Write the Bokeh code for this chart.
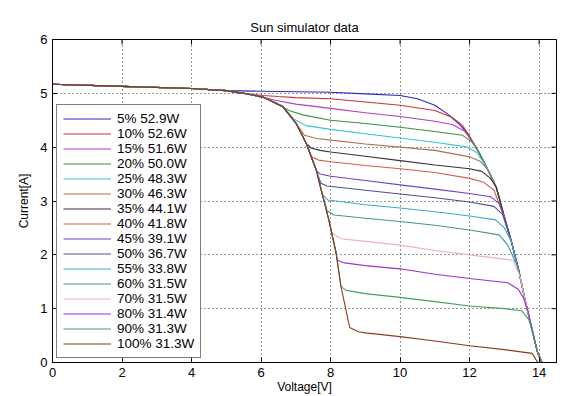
import math
from bokeh.plotting import figure
from bokeh.models import Legend, LegendItem, FixedTicker, Range1d
from bokeh.embed import file_html
from bokeh.resources import INLINE

# ---- data (Voltage [V], Current [A]) ----
labels = ["5% 52.9W", "10% 52.6W", "15% 51.6W", "20% 50.0W", "25% 48.3W", "30% 46.3W",
          "35% 44.1W", "40% 41.8W", "45% 39.1W", "50% 36.7W", "55% 33.8W", "60% 31.5W",
          "70% 31.5W", "80% 31.4W", "90% 31.3W", "100% 31.3W"]

v05 = [0, 2, 4, 5, 6, 7, 8, 9, 10, 10.5, 11, 11.4, 11.7, 11.95, 12.29, 12.55, 12.77, 13.0, 13.2, 13.4, 13.6, 13.8, 13.95, 14.08]
i05 = [5.17, 5.13, 5.09, 5.05, 5.04, 5.03, 5.02, 4.99, 4.96, 4.9, 4.78, 4.6, 4.43, 4.25, 3.88, 3.55, 3.25, 2.7, 2.25, 1.75, 1.15, 0.6, 0.2, 0.0]

v10 = [0, 2, 4, 5, 5.5, 6.05, 6.5, 7, 8, 9, 10, 11, 11.5, 11.8, 11.95, 12.29, 12.55, 12.77, 13.0, 13.2, 13.4, 13.6, 13.8, 13.95, 14.08]
i10 = [5.17, 5.13, 5.09, 5.05, 5.0, 4.96, 4.94, 4.92, 4.9, 4.84, 4.78, 4.68, 4.55, 4.4, 4.25, 3.88, 3.55, 3.25, 2.7, 2.25, 1.75, 1.15, 0.6, 0.2, 0.0]

v15 = [0, 2, 4, 5, 5.5, 6.05, 6.4, 7, 8, 9, 10, 11, 11.5, 11.85, 12.05, 12.29, 12.55, 12.77, 13.0, 13.2, 13.4, 13.6, 13.8, 13.95, 14.08]
i15 = [5.17, 5.13, 5.09, 5.05, 5.0, 4.93, 4.87, 4.8, 4.72, 4.64, 4.57, 4.48, 4.42, 4.3, 4.12, 3.88, 3.55, 3.25, 2.7, 2.25, 1.75, 1.15, 0.6, 0.2, 0.0]

v20 = [0, 2, 4, 5, 5.5, 6.05, 6.5, 6.8, 7.2, 8, 9, 10, 11, 11.8, 12.1, 12.29, 12.55, 12.77, 13.0, 13.2, 13.4, 13.6, 13.8, 13.95, 14.08]
i20 = [5.17, 5.13, 5.09, 5.05, 5.0, 4.93, 4.8, 4.68, 4.6, 4.5, 4.44, 4.37, 4.29, 4.22, 4.08, 3.88, 3.55, 3.25, 2.7, 2.25, 1.75, 1.15, 0.6, 0.2, 0.0]

v25 = [0, 2, 4, 5, 5.5, 6.05, 6.63, 6.95, 7.3, 8, 9, 10, 11, 11.95, 12.2, 12.4, 12.55, 12.77, 13.0, 13.2, 13.4, 13.6, 13.8, 13.95, 14.08]
i25 = [5.17, 5.13, 5.09, 5.05, 5.0, 4.93, 4.75, 4.52, 4.4, 4.33, 4.25, 4.17, 4.09, 4.0, 3.9, 3.72, 3.55, 3.25, 2.7, 2.25, 1.75, 1.15, 0.6, 0.2, 0.0]

v30 = [0, 2, 4, 5, 5.5, 6.05, 6.63, 7.01, 7.25, 7.6, 8, 9, 10, 11, 12, 12.3, 12.5, 12.77, 13.0, 13.2, 13.4, 13.6, 13.8, 13.95, 14.08]
i30 = [5.17, 5.13, 5.09, 5.05, 5.0, 4.93, 4.75, 4.44, 4.22, 4.16, 4.13, 4.06, 4.0, 3.94, 3.82, 3.74, 3.6, 3.25, 2.7, 2.25, 1.75, 1.15, 0.6, 0.2, 0.0]

v35 = [0, 2, 4, 5, 5.5, 6.05, 6.63, 7.01, 7.3, 7.45, 7.7, 8, 9, 10, 11, 12, 12.35, 12.6, 12.77, 13.0, 13.2, 13.4, 13.6, 13.8, 13.95, 14.08]
i35 = [5.17, 5.13, 5.09, 5.05, 5.0, 4.93, 4.75, 4.44, 4.07, 3.98, 3.94, 3.91, 3.83, 3.75, 3.67, 3.6, 3.55, 3.42, 3.25, 2.7, 2.25, 1.75, 1.15, 0.6, 0.2, 0.0]

v40 = [0, 2, 4, 5, 5.5, 6.05, 6.63, 7.01, 7.3, 7.45, 7.65, 8, 9, 10, 11, 12, 12.4, 12.7, 13.0, 13.2, 13.4, 13.6, 13.8, 13.95, 14.08]
i40 = [5.17, 5.13, 5.09, 5.05, 5.0, 4.93, 4.75, 4.44, 4.07, 3.82, 3.76, 3.73, 3.66, 3.6, 3.53, 3.42, 3.35, 3.2, 2.7, 2.25, 1.75, 1.15, 0.6, 0.2, 0.0]

v45 = [0, 2, 4, 5, 5.5, 6.05, 6.63, 7.01, 7.3, 7.59, 7.7, 8, 9, 10, 11, 12, 12.6, 12.85, 13.0, 13.2, 13.4, 13.6, 13.8, 13.95, 14.08]
i45 = [5.17, 5.13, 5.09, 5.05, 5.0, 4.93, 4.75, 4.44, 4.07, 3.57, 3.5, 3.46, 3.38, 3.3, 3.22, 3.14, 3.08, 2.95, 2.7, 2.25, 1.75, 1.15, 0.6, 0.2, 0.0]

v50 = [0, 2, 4, 5, 5.5, 6.05, 6.63, 7.01, 7.3, 7.59, 7.72, 7.9, 9, 10, 11, 12, 12.7, 12.95, 13.2, 13.4, 13.6, 13.8, 13.95, 14.08]
i50 = [5.17, 5.13, 5.09, 5.05, 5.0, 4.93, 4.75, 4.44, 4.07, 3.57, 3.33, 3.28, 3.2, 3.13, 3.06, 2.98, 2.9, 2.75, 2.25, 1.75, 1.15, 0.6, 0.2, 0.0]

v55 = [0, 2, 4, 5, 5.5, 6.05, 6.63, 7.01, 7.3, 7.59, 7.76, 7.92, 9, 10, 11, 12, 12.75, 13.0, 13.2, 13.4, 13.6, 13.8, 13.95, 14.08]
i55 = [5.17, 5.13, 5.09, 5.05, 5.0, 4.93, 4.75, 4.44, 4.07, 3.57, 3.12, 3.02, 2.93, 2.87, 2.8, 2.72, 2.65, 2.5, 2.25, 1.75, 1.15, 0.6, 0.2, 0.0]

v60 = [0, 2, 4, 5, 5.5, 6.05, 6.63, 7.01, 7.3, 7.59, 7.78, 7.9, 8.1, 9, 10, 11, 12, 12.85, 13.1, 13.4, 13.6, 13.8, 13.95, 14.08]
i60 = [5.17, 5.13, 5.09, 5.05, 5.0, 4.93, 4.75, 4.44, 4.07, 3.57, 3.08, 2.82, 2.74, 2.68, 2.62, 2.55, 2.46, 2.37, 2.18, 1.75, 1.15, 0.6, 0.2, 0.0]

v70 = [0, 2, 4, 5, 5.5, 6.05, 6.63, 7.01, 7.3, 7.59, 7.78, 7.95, 8.05, 8.3, 9, 10, 11, 12, 13.25, 13.45, 13.6, 13.8, 13.95, 14.08]
i70 = [5.17, 5.13, 5.09, 5.05, 5.0, 4.93, 4.75, 4.44, 4.07, 3.57, 3.08, 2.65, 2.4, 2.3, 2.25, 2.18, 2.08, 2.0, 1.9, 1.6, 1.15, 0.6, 0.2, 0.0]

v80 = [0, 2, 4, 5, 5.5, 6.05, 6.63, 7.01, 7.3, 7.59, 7.78, 7.95, 8.16, 8.19, 8.4, 9, 10, 11, 12, 13.1, 13.4, 13.55, 13.68, 13.8, 13.95, 14.08]
i80 = [5.17, 5.13, 5.09, 5.05, 5.0, 4.93, 4.75, 4.44, 4.07, 3.57, 3.08, 2.65, 2.03, 1.9, 1.85, 1.8, 1.74, 1.64, 1.56, 1.48, 1.36, 1.2, 0.95, 0.6, 0.2, 0.0]

v90 = [0, 2, 4, 5, 5.5, 6.05, 6.63, 7.01, 7.3, 7.59, 7.78, 7.95, 8.16, 8.3, 8.45, 9, 10, 11, 12, 13, 13.5, 13.7, 13.87, 13.95, 14.06]
i90 = [5.17, 5.13, 5.09, 5.05, 5.0, 4.93, 4.75, 4.44, 4.07, 3.57, 3.08, 2.65, 2.03, 1.41, 1.34, 1.28, 1.21, 1.13, 1.05, 1.0, 0.96, 0.8, 0.43, 0.2, 0.0]

v100 = [0, 2, 4, 5, 5.5, 6.05, 6.63, 7.01, 7.3, 7.59, 7.78, 7.95, 8.16, 8.3, 8.5, 8.55, 8.8, 9, 10, 11, 12, 13, 13.8, 13.96]
i100 = [5.17, 5.13, 5.09, 5.05, 5.0, 4.93, 4.75, 4.44, 4.07, 3.57, 3.08, 2.65, 2.03, 1.41, 0.8, 0.65, 0.57, 0.55, 0.48, 0.4, 0.31, 0.24, 0.17, 0.0]

volts = [v05, v10, v15, v20, v25, v30, v35, v40, v45, v50, v55, v60, v70, v80, v90, v100]
amps = [i05, i10, i15, i20, i25, i30, i35, i40, i45, i50, i55, i60, i70, i80, i90, i100]

x_ticks = [0, 2, 4, 6, 8, 10, 12, 14]
y_ticks = [0, 1, 2, 3, 4, 5, 6]
x_max = 14.5
y_max = 6

colors = ["#2828c8", "#cc3333", "#b040c0", "#3f8f3f", "#33c6c6", "#a8744e",
          "#333333", "#d06048", "#7040c8", "#505090", "#40a8c8", "#40988c",
          "#f4a8d8", "#a030c8", "#40a060", "#8b3a1a"]

FONT = "Liberation Sans"
W, H = 565, 396

p = figure(width=W, height=H, x_range=Range1d(0, x_max), y_range=Range1d(0, y_max),
           output_backend="svg", toolbar_location=None, title="Sun simulator data",
           min_border_left=52, min_border_right=W - 556, min_border_top=39,
           min_border_bottom=H - 363)

p.title.align = "center"
p.title.text_font = FONT
p.title.text_font_size = "13px"
p.title.text_font_style = "normal"
p.title.text_color = "black"
p.title.offset = 0

p.outline_line_color = "black"
p.outline_line_width = 1
p.outline_line_alpha = 1

for ax, ticks in ((p.xaxis[0], x_ticks), (p.yaxis[0], y_ticks)):
    ax.ticker = FixedTicker(ticks=ticks)
    ax.major_tick_in = 5
    ax.major_tick_out = 0
    ax.minor_tick_line_color = None
    ax.axis_line_color = "black"
    ax.major_tick_line_color = "black"
    ax.major_label_text_font = FONT
    ax.major_label_text_font_size = "13px"
    ax.major_label_text_color = "black"
    ax.axis_label_text_font = FONT
    ax.axis_label_text_font_size = "12px"
    ax.axis_label_text_font_style = "normal"
    ax.axis_label_text_color = "black"

p.xaxis.major_label_standoff = 5
p.xaxis.axis_label_standoff = 0
p.yaxis.major_label_standoff = 5
p.yaxis.axis_label_standoff = 6
p.xaxis.axis_label = "Voltage[V]"
p.yaxis.axis_label = "Current[A]"

p.xgrid.ticker = FixedTicker(ticks=x_ticks)
p.ygrid.ticker = FixedTicker(ticks=y_ticks)
for g in (p.xgrid[0], p.ygrid[0]):
    g.grid_line_color = "black"
    g.grid_line_dash = "1 3"
    g.grid_line_width = 1
    g.grid_line_alpha = 0.8

# mirrored inward tick marks on the top and right edges
p.ray(x=x_ticks, y=[y_max] * len(x_ticks), length=5, length_units="screen",
      angle=-math.pi / 2, line_color="black", line_width=1)
p.ray(x=[x_max] * len(y_ticks), y=y_ticks, length=5, length_units="screen",
      angle=math.pi, line_color="black", line_width=1)

items = []
for vv, ii, col, lab in zip(volts, amps, colors, labels):
    r = p.line(vv, ii, line_color=col, line_width=1.1)
    items.append(LegendItem(label=lab, renderers=[r]))

legend = Legend(items=items, location="bottom_left", margin=4, padding=6, spacing=0,
                glyph_width=48, glyph_height=15, label_height=15, label_standoff=6,
                label_text_font=FONT, label_text_font_size="13.5px", label_text_color="black",
                border_line_color="black", border_line_width=1, background_fill_alpha=1)
p.add_layout(legend)

open("out.html", "w").write(file_html(p, INLINE))
